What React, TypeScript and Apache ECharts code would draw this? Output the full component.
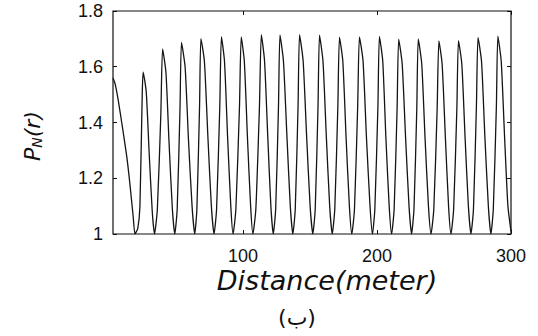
import React, { useEffect, useRef } from "react";
import * as echarts from "echarts";

// Distance (m) and P_N(r) values
const distance = [
  3, 4.5, 6.9, 9.5, 13.2, 15.6, 18.1, 19.4,
  21.5, 23.1, 24.8, 25.5, 27.8, 30.0, 32.3, 34.0,
  36.1, 38.7, 40.0, 42.5, 44.8, 47.3, 49.1,
  50.9, 53.0, 54.1, 56.8, 59.3, 62.0, 64.0,
  65.6, 67.6, 68.6, 71.2, 73.8, 76.4, 78.4,
  80.3, 82.7, 83.9, 86.2, 88.5, 90.9, 92.6,
  94.7, 97.4, 98.7, 101.0, 103.3, 105.7, 107.4,
  109.6, 112.3, 113.7, 116.1, 118.4, 120.8, 122.6,
  124.4, 126.5, 127.6, 130.2, 132.7, 135.3, 137.2,
  139.0, 141.1, 142.2, 144.9, 147.4, 150.1, 152.1,
  153.9, 156.0, 157.1, 159.7, 162.1, 164.7, 166.6,
  168.5, 170.8, 172.0, 174.5, 176.9, 179.4, 181.2,
  183.2, 185.6, 186.9, 189.6, 192.1, 194.8, 196.6,
  198.4, 200.7, 201.8, 204.3, 206.6, 209.1, 210.9,
  212.8, 215.0, 216.2, 218.8, 221.3, 223.9, 225.8,
  227.6, 229.7, 230.8, 233.4, 235.8, 238.4, 240.3,
  242.4, 244.9, 246.2, 248.6, 251.0, 253.4, 255.2,
  257.2, 259.6, 260.8, 263.3, 265.7, 268.2, 270.1,
  272.0, 274.2, 275.4, 278.0, 280.5, 283.1, 285.0,
  286.8, 289.1, 290.2, 292.7, 295.2, 297.7, 300,
];

const pn = [
  1.56, 1.54, 1.48, 1.40, 1.28, 1.18, 1.06, 1.0,
  1.02, 1.10, 1.50, 1.581, 1.51, 1.29, 1.08, 1.0,
  1.09, 1.43, 1.664, 1.58, 1.33, 1.09, 1.0,
  1.09, 1.45, 1.687, 1.60, 1.34, 1.10, 1.0,
  1.09, 1.46, 1.701, 1.62, 1.35, 1.10, 1.0,
  1.09, 1.46, 1.708, 1.62, 1.35, 1.10, 1.0,
  1.09, 1.46, 1.707, 1.62, 1.35, 1.10, 1.0,
  1.09, 1.46, 1.715, 1.62, 1.36, 1.10, 1.0,
  1.09, 1.46, 1.714, 1.62, 1.36, 1.10, 1.0,
  1.09, 1.46, 1.715, 1.62, 1.36, 1.10, 1.0,
  1.09, 1.46, 1.713, 1.62, 1.36, 1.10, 1.0,
  1.09, 1.46, 1.706, 1.62, 1.35, 1.10, 1.0,
  1.09, 1.46, 1.707, 1.62, 1.35, 1.10, 1.0,
  1.09, 1.46, 1.709, 1.62, 1.35, 1.10, 1.0,
  1.09, 1.45, 1.699, 1.61, 1.35, 1.10, 1.0,
  1.09, 1.45, 1.700, 1.61, 1.35, 1.10, 1.0,
  1.09, 1.45, 1.693, 1.61, 1.35, 1.10, 1.0,
  1.09, 1.45, 1.694, 1.61, 1.35, 1.10, 1.0,
  1.09, 1.46, 1.705, 1.62, 1.35, 1.10, 1.0,
  1.09, 1.46, 1.710, 1.62, 1.35, 1.10, 1.01,
];

const xTicks = [100, 200, 300];
const xMin = 3;
const xMax = 300;
const yMin = 1;
const yMax = 1.8;
const yStep = 0.2;

const xTitle = "Distance(meter)";
const caption = "(ب)";

export default function App() {
  const ref = useRef<HTMLDivElement>(null);

  useEffect(() => {
    if (!ref.current) return;
    const chart = echarts.init(ref.current, null, { renderer: "svg" });
    const data = distance.map((d, i) => [d, pn[i]]);
    const labelFont = {
      color: "#111",
      fontSize: 18,
      fontFamily: "Liberation Sans, Arial, sans-serif",
    };
    chart.setOption({
      animation: false,
      backgroundColor: "#fff",
      grid: {
        left: 113,
        right: 27,
        top: 11,
        bottom: 102,
        show: true,
        borderColor: "#111",
        borderWidth: 1.2,
        backgroundColor: "transparent",
      },
      xAxis: [
        {
          type: "value",
          min: xMin,
          max: xMax,
          position: "bottom",
          axisLine: { show: false },
          splitLine: { show: false },
          axisTick: {
            show: true,
            inside: true,
            length: 4,
            customValues: xTicks,
            lineStyle: { color: "#111" },
          },
          axisLabel: { ...labelFont, margin: 13, customValues: xTicks },
        },
        {
          type: "value",
          min: xMin,
          max: xMax,
          position: "top",
          axisLine: { show: false },
          splitLine: { show: false },
          axisTick: {
            show: true,
            inside: true,
            length: 4,
            customValues: xTicks,
            lineStyle: { color: "#111" },
          },
          axisLabel: { show: false },
        },
      ],
      yAxis: [
        {
          type: "value",
          min: yMin,
          max: yMax,
          interval: yStep,
          position: "left",
          axisLine: { show: false },
          splitLine: { show: false },
          axisTick: {
            show: true,
            inside: true,
            length: 4,
            lineStyle: { color: "#111" },
          },
          axisLabel: { ...labelFont, margin: 10 },
        },
        {
          type: "value",
          min: yMin,
          max: yMax,
          interval: yStep,
          position: "right",
          axisLine: { show: false },
          splitLine: { show: false },
          axisTick: {
            show: true,
            inside: true,
            length: 4,
            lineStyle: { color: "#111" },
          },
          axisLabel: { show: false },
        },
      ],
      series: [
        {
          type: "line",
          data,
          xAxisIndex: 0,
          yAxisIndex: 0,
          showSymbol: false,
          smooth: 0.2,
          lineStyle: { color: "#151515", width: 1.3 },
        },
      ],
      graphic: [
        {
          type: "text",
          x: 327,
          y: 280,
          style: {
            text: xTitle,
            fill: "#111",
            font: "italic 27px 'DejaVu Sans', sans-serif",
            textAlign: "center",
            textVerticalAlign: "middle",
          },
        },
        {
          type: "text",
          x: 297,
          y: 317,
          style: {
            text: caption,
            fill: "#111",
            font: "22px 'DejaVu Sans', sans-serif",
            textAlign: "center",
            textVerticalAlign: "middle",
          },
        },
        {
          type: "text",
          x: 32,
          y: 136,
          rotation: Math.PI / 2,
          style: {
            text: "{a|P}{b|N}{a|(r)}",
            fill: "#111",
            textAlign: "center",
            textVerticalAlign: "middle",
            rich: {
              a: {
                fontSize: 22,
                fontStyle: "italic",
                fontFamily: "DejaVu Sans",
                fill: "#111",
                lineHeight: 24,
              },
              b: {
                fontSize: 14,
                fontStyle: "italic",
                fontFamily: "DejaVu Sans",
                fill: "#111",
                lineHeight: 24,
                verticalAlign: "bottom",
                padding: [8, 0, 0, 0],
              },
            },
          },
        },
      ],
    });
    return () => chart.dispose();
  }, []);

  return (
    <div
      ref={ref}
      style={{
        position: "absolute",
        left: 0,
        top: 0,
        width: 538,
        height: 336,
        background: "#fff",
      }}
    />
  );
}
